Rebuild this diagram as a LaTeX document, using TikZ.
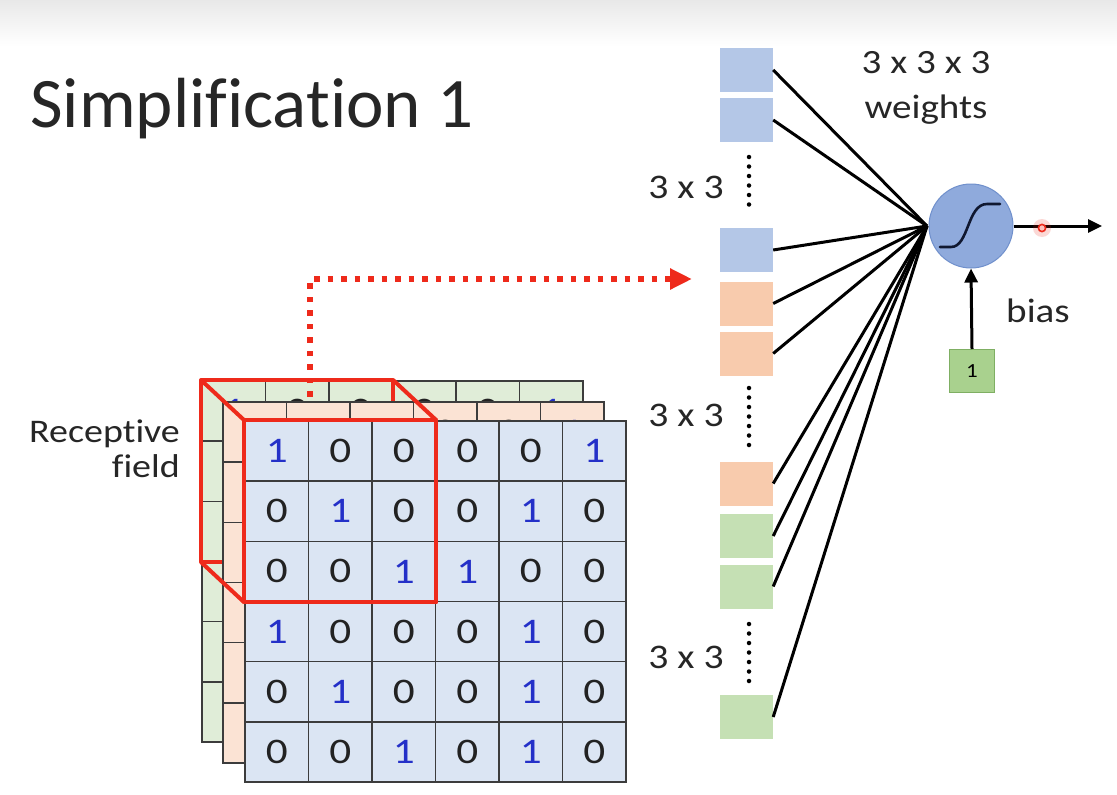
\documentclass[tikz,border=0pt]{standalone}
\usepackage{fontspec}
\setmainfont{Carlito}[Ligatures={TeX,NoCommon}]
\newfontfamily\lblfont{Carlito}[Ligatures={TeX,NoCommon},FakeStretch=1.15]
\newfontfamily\digfont{Carlito}[FakeStretch=1.2]
\usetikzlibrary{arrows.meta,calc}
\definecolor{cellBlue}{HTML}{DBE5F3}
\definecolor{cellOrange}{HTML}{FBE3D4}
\definecolor{cellGreen}{HTML}{E0EDD8}
\definecolor{gridc}{HTML}{3C3C3C}
\definecolor{sqBlue}{HTML}{B4C7E7}
\definecolor{sqOrange}{HTML}{F8CBAD}
\definecolor{sqGreen}{HTML}{C5E0B4}
\definecolor{biasGreen}{HTML}{A9D18E}
\definecolor{biasEdge}{HTML}{7FAF63}
\definecolor{onec}{HTML}{2430C8}
\definecolor{zeroc}{HTML}{222222}
\definecolor{rfred}{HTML}{EE2A1B}
\definecolor{neuronFill}{HTML}{8FAADC}
\definecolor{neuronEdge}{HTML}{7090CC}
\definecolor{sigc}{HTML}{101830}
\tikzset{
  gcell/.style={draw=gridc, line width=1.6pt, minimum width=63.5pt, minimum height=60.17pt,
    inner sep=0pt, text=zeroc, font=\digfont\fontsize{36}{36}\selectfont},
  rf/.style={draw=rfred, line width=4pt, line join=round},
  wsq/.style={minimum width=53pt, minimum height=44pt, inner sep=0pt},
  wline/.style={line width=3pt, black},
  lbl/.style={font=\lblfont\fontsize{34.5}{40}\selectfont, inner sep=0pt, text=black!85},
  vdots/.style={line width=4.5pt, dash pattern=on 0pt off 9.5pt, line cap=round, black}
}
\newcommand{\gridlayer}[4]{%
  \foreach \row [count=\i from 0] in {{1,0,0,0,0,1},{0,1,0,0,1,0},{0,0,1,1,0,0},{1,0,0,0,1,0},{0,1,0,0,1,0},{0,0,1,0,1,0}}{%
    \foreach \v [count=\j from 0] in \row {%
      \node[gcell,fill=#4] (#1-\i-\j) at ({276.75+#2+63.5*\j},{451.08+#3+60.17*\i})
        {\ifnum\v=1 \textcolor{onec}{1}\else 0\fi};
    }}}
\begin{document}
\begin{tikzpicture}[x=1pt,y=-1pt]
\useasboundingbox (0,0) rectangle (1117,795);
\fill[white] (0,0) rectangle (1117,795);
\shade[top color=black!9, bottom color=white] (0,0) rectangle (1117,46);

% title
\node[anchor=base west, inner sep=0pt, font=\fontsize{71}{71}\selectfont, text=black!85] (title) at (30,127) {Simplification 1};

% receptive field label
\node[anchor=base east, inner sep=0pt, font=\lblfont\fontsize{33}{33}\selectfont, text=black!85] (rl1) at (180,442) {Receptive};
\node[anchor=base east, inner sep=0pt, font=\lblfont\fontsize{33}{33}\selectfont, text=black!85] (rl2) at (180,477) {field};

% back (green) layer
\gridlayer{g}{-43}{-40}{cellGreen}
\draw[rf] (g-0-0.north west) rectangle (g-2-2.south east);

% dotted red arrow
\coordinate (rfTop) at (310,410);
\coordinate (rfTip) at (692,279);
\draw[rfred, line width=5.5pt, dash pattern=on 5.5pt off 8pt, -{Triangle[length=22pt,width=20pt]}] (rfTop) |- (rfTip);

% middle (orange) layer
\gridlayer{o}{-22}{-19}{cellOrange}
% front (blue) layer
\gridlayer{f}{0}{0}{cellBlue}

% receptive field cube edges
\draw[rf] (g-0-0.north west) -- (f-0-0.north west);
\draw[rf] (g-0-2.north east) -- (f-0-2.north east);
\draw[rf] (g-2-0.south west) -- (f-2-0.south west);
\draw[rf] (f-0-0.north west) rectangle (f-2-2.south east);

% weight squares
\node[wsq, fill=sqBlue]   (s1) at (746.5,70) {};
\node[wsq, fill=sqBlue]   (s2) at (746.5,120) {};
\node[wsq, fill=sqBlue]   (s3) at (746.5,250) {};
\node[wsq, fill=sqOrange] (s4) at (746.5,303.5) {};
\node[wsq, fill=sqOrange] (s5) at (746.5,353.5) {};
\node[wsq, fill=sqOrange] (s6) at (746.5,483.5) {};
\node[wsq, fill=sqGreen]  (s7) at (746.5,536) {};
\node[wsq, fill=sqGreen]  (s8) at (746.5,586.5) {};
\node[wsq, fill=sqGreen]  (s9) at (746.5,717) {};

% vertical dots
\coordinate (d1a) at (749,157); \coordinate (d1b) at (749,214);
\coordinate (d2a) at (749,388); \coordinate (d2b) at (749,447);
\coordinate (d3a) at (749,624); \coordinate (d3b) at (749,683);
\draw[vdots] (d1a) -- (d1b);
\draw[vdots] (d2a) -- (d2b);
\draw[vdots] (d3a) -- (d3b);

% 3 x 3 labels
\node[lbl] (l1) at (686,187) {3 x 3};
\node[lbl] (l2) at (686,415) {3 x 3};
\node[lbl] (l3) at (686,657) {3 x 3};

% neuron
\node[circle, minimum size=84pt, inner sep=0pt, fill=neuronFill, draw=neuronEdge, line width=1pt] (neuron) at (971,226) {};
\draw[sigc, line width=2.6pt, line cap=round, shift={(neuron.center)}]
  (-31,21) -- (-20,21) .. controls (-2,21) and (-4,-22) .. (16,-22) -- (29,-22);

\coordinate (conv) at (927,226);
\foreach \s in {s1,s2,s3,s4,s5,s6,s7,s8,s9}
  \draw[wline] (\s.east) -- (conv);

% output
\coordinate (out) at (1102,226);
\draw[wline, -{Triangle[length=14pt,width=13pt]}] (neuron.east) -- (out);
% pointer mark
\fill[rfred, opacity=0.18] (1042,228) circle (9pt);
\draw[rfred, line width=1.6pt, fill=white!70!rfred] (1042,228) circle (3.6pt);

% bias
\node[minimum width=45pt, minimum height=43pt, inner sep=0pt, fill=biasGreen, draw=biasEdge, line width=1pt,
  font=\lblfont\fontsize{20}{20}\selectfont] (one) at (972,371) {1};
\draw[wline, -{Triangle[length=14pt,width=13pt]}] (one.north) -- (neuron.south);
\node[lbl, font=\lblfont\fontsize{34}{34}\selectfont] (bias) at (1038,311) {bias};

% weights label
\node[lbl, font=\lblfont\fontsize{34}{34}\selectfont] (w1) at (926,63) {3 x 3 x 3};
\node[lbl, font=\lblfont\fontsize{34}{34}\selectfont] (w2) at (926,110) {weights};
\end{tikzpicture}
\end{document}
